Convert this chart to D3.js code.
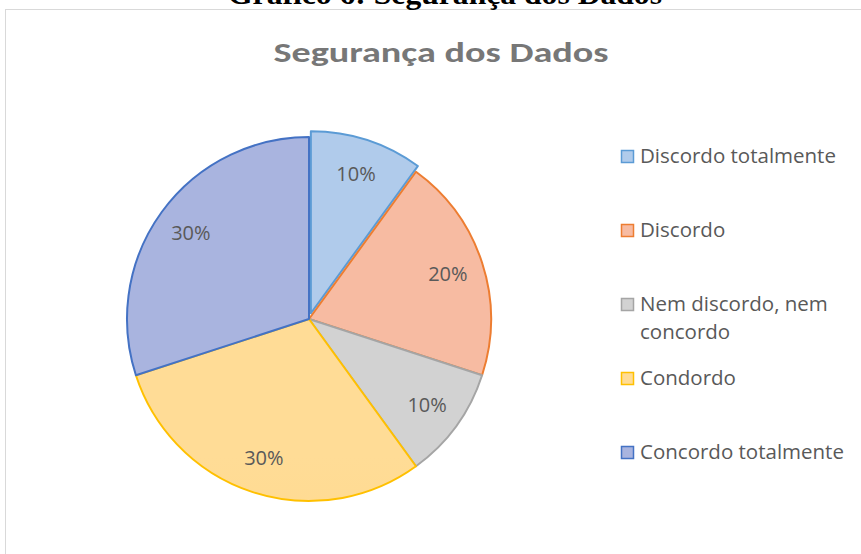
<!DOCTYPE html>
<html>
<head>
<meta charset="utf-8">
<script src="https://cdn.jsdelivr.net/npm/d3@7"></script>
<style>
  body { margin: 0; background: #fff; }
  svg { display: block; }
</style>
</head>
<body>
<svg id="chart" width="861" height="554"></svg>
<script>
const categories = ["Discordo totalmente", "Discordo", "Nem discordo, nem concordo", "Condordo", "Concordo totalmente"];
const values = [10, 20, 10, 30, 30];
const legendLines = [["Discordo totalmente"], ["Discordo"], ["Nem discordo, nem", "concordo"], ["Condordo"], ["Concordo totalmente"]];
const fillTop = ["#b0cbeb", "#f7bba2", "#d2d2d2", "#ffdc96", "#a9b4df"];
const fillBottom = ["#9dbde5", "#f4a685", "#c1c1c1", "#ffd47f", "#8aa2d8"];
const strokes = ["#5b9bd5", "#ed7d31", "#a5a5a5", "#ffc000", "#4472c4"];

const width = 861;
const height = 554;
const cx = 309;
const cy = 319;
const radius = 182;
const explode = 6;

const svg = d3.select("#chart");
const defs = svg.append("defs");

// chart area border (right and bottom are off the picture)
svg.append("rect")
  .attr("x", 5.5).attr("y", 9.5)
  .attr("width", 900).attr("height", 600)
  .attr("fill", "none")
  .attr("stroke", "#d9d9d9");

// caption above the chart, cut off by the top edge like in the original
svg.append("text")
  .attr("x", 445).attr("y", 4)
  .attr("text-anchor", "middle")
  .attr("font-family", "'Liberation Serif', 'Times New Roman', serif")
  .attr("font-weight", "bold")
  .attr("font-size", 30)
  .attr("textLength", 434)
  .attr("lengthAdjust", "spacingAndGlyphs")
  .attr("fill", "#000")
  .text("Gráfico 6: Segurança dos Dados");

svg.append("text")
  .attr("x", 441).attr("y", 62)
  .attr("text-anchor", "middle")
  .attr("font-family", "Carlito, 'Open Sans', sans-serif")
  .attr("font-weight", "bold")
  .attr("font-size", 29)
  .attr("textLength", 335)
  .attr("lengthAdjust", "spacingAndGlyphs")
  .attr("fill", "#777")
  .text("Segurança dos Dados");

categories.forEach((c, i) => {
  const g = defs.append("linearGradient")
    .attr("id", "grad-" + i)
    .attr("gradientUnits", "userSpaceOnUse")
    .attr("x1", 0).attr("y1", cy - radius)
    .attr("x2", 0).attr("y2", cy + radius);
  g.append("stop").attr("offset", "0%").attr("stop-color", fillTop[i]);
  g.append("stop").attr("offset", "100%").attr("stop-color", fillBottom[i]);
});

const data = categories.map((c, i) => ({ category: c, value: values[i], index: i }));

const pie = d3.pie().sort(null).value(d => d.value);
const arcs = pie(data);

const arc = d3.arc().innerRadius(0).outerRadius(radius);
const labelArc = d3.arc().innerRadius(146).outerRadius(146);

const pieG = svg.append("g").attr("transform", `translate(${cx},${cy})`);

function offset(d) {
  if (d.index !== 0) return [0, 0];
  const mid = (d.startAngle + d.endAngle) / 2;
  return [explode * Math.sin(mid), -explode * Math.cos(mid)];
}

const slices = pieG.selectAll("g.slice")
  .data(arcs)
  .enter()
  .append("g")
  .attr("class", "slice")
  .attr("transform", d => `translate(${offset(d)})`);

slices.append("path")
  .attr("d", arc)
  .attr("fill", (d, i) => `url(#grad-${i})`)
  .attr("stroke", (d, i) => strokes[i])
  .attr("stroke-width", 2)
  .attr("stroke-linejoin", "round");

slices.append("text")
  .attr("transform", d => `translate(${labelArc.centroid(d)})`)
  .attr("text-anchor", "middle")
  .attr("dy", "0.35em")
  .attr("font-family", "'Open Sans', sans-serif")
  .attr("font-size", 20)
  .attr("fill", "#595959")
  .text(d => d.value + "%");

// legend
const legendX = 621;
const legendY = d3.scalePoint().domain(d3.range(categories.length)).range([157, 453]);

const legend = svg.append("g")
  .selectAll("g")
  .data(data)
  .enter()
  .append("g")
  .attr("transform", d => `translate(${legendX},${legendY(d.index)})`);

legend.append("rect")
  .attr("x", 0.5).attr("y", -6.5)
  .attr("width", 12).attr("height", 12)
  .attr("fill", d => fillTop[d.index])
  .attr("stroke", d => strokes[d.index])
  .attr("stroke-width", 1.5);

legend.append("text")
  .attr("x", 19)
  .attr("y", 6)
  .attr("font-family", "'Open Sans', sans-serif")
  .attr("font-size", 20.5)
  .attr("fill", "#595959")
  .selectAll("tspan")
  .data(d => legendLines[d.index])
  .enter()
  .append("tspan")
  .attr("x", 19)
  .attr("dy", (d, i) => i === 0 ? 0 : 28)
  .text(d => d);
</script>
</body>
</html>
